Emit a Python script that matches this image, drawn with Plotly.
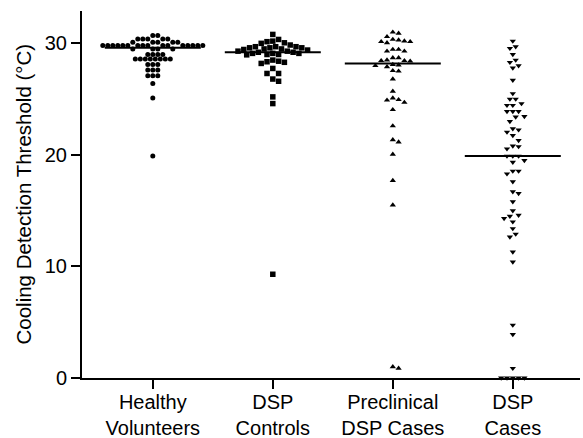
import numpy as np
import plotly.graph_objects as go

categories = ["Healthy<br>Volunteers", "DSP<br>Controls", "Preclinical<br>DSP Cases", "DSP<br>Cases"]

healthy = [30.7, 30.7,
           30.4, 30.4, 30.4, 30.4, 30.4,
           30.1, 30.1, 30.1, 30.1, 30.1,
           29.8, 29.8, 29.8, 29.8, 29.8, 29.8, 29.8, 29.8,
           29.8, 29.8, 29.8, 29.8, 29.8, 29.8, 29.8, 29.8,
           29.5, 29.5, 29.5, 29.5,
           29.0, 29.0, 29.0, 29.0,
           28.6, 28.6, 28.6, 28.6, 28.6, 28.6, 28.6, 28.6,
           28.1, 28.1, 28.1,
           27.6, 27.6, 27.6,
           27.1, 27.1, 27.1,
           26.4, 25.1, 19.9]

dsp_controls = [30.8, 30.35, 30.2, 30.15, 30.05, 30.0, 29.85,
                29.7, 29.7, 29.7, 29.6, 29.6, 29.6, 29.5, 29.5, 29.45, 29.4,
                29.3, 29.3, 29.2, 29.2, 29.1, 29.1, 29.1, 29.0, 29.0, 28.97,
                28.5, 28.4, 28.35, 28.3, 28.2,
                27.75, 27.3, 27.3, 26.8, 26.6, 25.2, 24.6, 9.3]

preclinical = [31.0, 30.9, 30.6,
               30.35, 30.3, 30.2, 30.15, 30.15, 30.05,
               29.45, 29.45, 29.3, 29.3,
               28.7, 28.7, 28.5, 28.45, 28.45, 28.4,
               28.1, 28.05, 28.0, 27.9,
               27.55, 27.5, 26.8, 25.7,
               25.1, 24.95, 24.9, 24.7,
               24.05, 22.6, 21.35, 21.15, 20.05, 17.7, 15.5, 1.0, 0.87]

dsp_cases = [30.2, 29.7, 29.55, 29.0,
             28.5, 28.3, 28.0, 27.8, 26.7, 25.5,
             25.0, 25.0, 24.6, 24.45, 24.45,
             23.9, 23.9, 23.9, 23.45, 23.4, 23.0,
             22.35, 22.25, 22.05, 21.75, 21.3,
             20.8, 20.75, 20.55,
             19.9, 19.9, 19.9,
             19.5, 19.35, 18.55, 18.55, 18.3, 17.6, 16.7, 16.55,
             15.8, 15.0, 14.6, 14.5, 14.3, 14.0, 13.4, 12.9, 12.65,
             11.3, 10.4, 4.75, 3.9, 0.87,
             0.0, 0.0, 0.0, 0.0, 0.0]

medians = [29.6, 29.2, 28.2, 19.9]
y_title = "Cooling Detection Threshold (°C)"

groups = [healthy, dsp_controls, preclinical, dsp_cases]
symbols = ["circle", "square", "triangle-up", "triangle-down"]
msizes = [5, 5.5, 5.5, 5.5]
spacing = [5.0, 5.8, 5.8, 5.8]

# pixel scale for beeswarm layout
W, H = 583, 438
ML, MR, MT, MB = 82, 3, 11, 60
XR = [-0.59, 3.56]
YR = [0, 32.9]
PW = W - ML - MR
px_x = PW / (XR[1] - XR[0])
px_y = (H - MT - MB) / (YR[1] - YR[0])


def beeswarm(vals, d):
    order = np.argsort(-np.asarray(vals), kind="stable")
    placed = []
    offs = np.zeros(len(vals))
    for i in order:
        y = vals[i] * px_y
        cands = [0.0]
        for s in range(1, 60):
            cands += [s * d / 2, -s * d / 2]
        for c in cands:
            ok = True
            for (px, py) in placed:
                if (px - c) ** 2 + (py - y) ** 2 < d * d:
                    ok = False
                    break
            if ok:
                placed.append((c, y))
                offs[i] = c / px_x
                break
    return offs


fig = go.Figure()
for gi, vals in enumerate(groups):
    offs = beeswarm(vals, spacing[gi])
    fig.add_trace(go.Scatter(
        x=gi + offs, y=vals, mode="markers",
        marker=dict(symbol=symbols[gi], size=msizes[gi], color="black", line=dict(width=0)),
        cliponaxis=False, showlegend=False, hoverinfo="y"))
    fig.add_trace(go.Scatter(
        x=[gi - 0.4, gi + 0.4], y=[medians[gi], medians[gi]], mode="lines",
        line=dict(color="black", width=2), showlegend=False, hoverinfo="skip"))

fig.add_annotation(
    text=y_title, xref="paper", yref="paper", x=(23 - ML) / PW, y=0.5,
    xanchor="center", yanchor="middle", textangle=-90, showarrow=False,
    font=dict(size=20.5))

fig.update_layout(
    width=W, height=H,
    margin=dict(l=ML, r=MR, t=MT, b=MB, autoexpand=False),
    paper_bgcolor="white", plot_bgcolor="white",
    font=dict(family="Arial, Liberation Sans, sans-serif", size=20, color="black"),
    xaxis=dict(range=XR, tickvals=[0, 1, 2, 3], ticktext=categories, automargin=False,
               showgrid=False, zeroline=False, showline=True, linecolor="black",
               linewidth=2, ticks="outside", ticklen=9, tickwidth=2, tickcolor="black",
               tickfont=dict(size=20), ticklabelstandoff=-4),
    yaxis=dict(range=YR, tickvals=[0, 10, 20, 30], showgrid=False, zeroline=False,
               automargin=False,
               showline=True, linecolor="black", linewidth=2, ticks="outside",
               ticklen=9, tickwidth=2, tickcolor="black", tickfont=dict(size=20)),
)

fig.write_html("out.html", config={"displayModeBar": False},
               post_script="document.body.style.margin='0';document.body.style.padding='0';")
